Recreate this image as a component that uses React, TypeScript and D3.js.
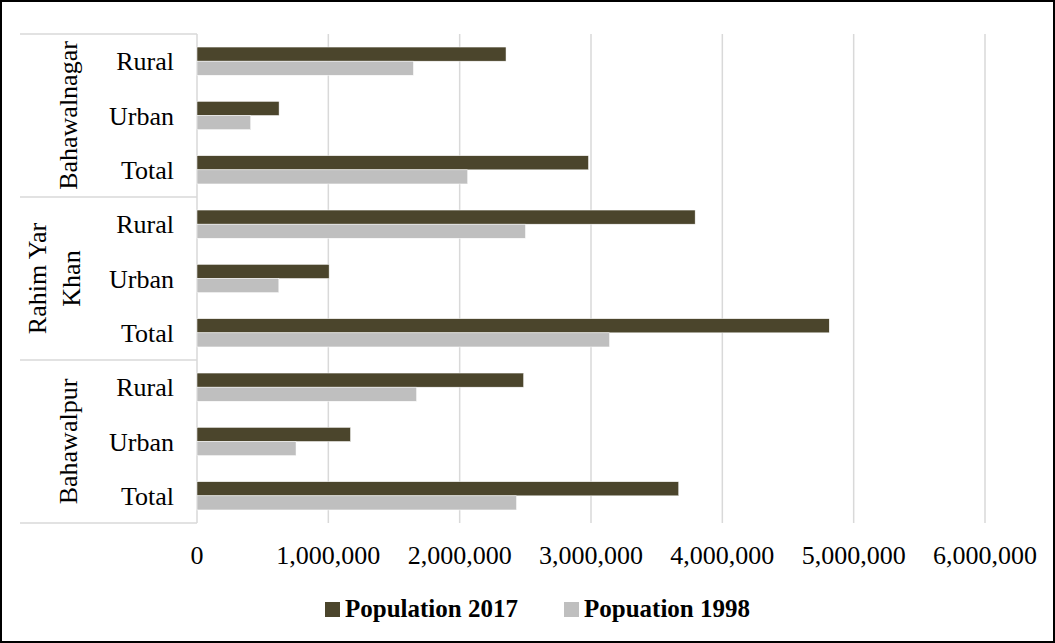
import { useEffect, useRef } from "react";
import * as d3 from "d3";

const groups = ["Bahawalnagar", "Rahim Yar Khan", "Bahawalpur"];
const subCats = ["Rural", "Urban", "Total"];
const series = ["Population 2017", "Popuation 1998"];
// values per group, in subCats order
const pop2017 = [
  [2353000, 625000, 2981000],
  [3793000, 1006000, 4814000],
  [2487000, 1169000, 3668000],
];
const pop1998 = [
  [1648000, 409000, 2061000],
  [2501000, 623000, 3141000],
  [1672000, 754000, 2433000],
];
const xTicks = [0, 1000000, 2000000, 3000000, 4000000, 5000000, 6000000];

const colors = ["#4b452c", "#bfbfbf"];
const W = 1055;
const H = 643;

const App = () => {
  const ref = useRef<SVGSVGElement>(null);

  useEffect(() => {
    if (!ref.current) return;
    const svg = d3.select(ref.current);
    svg.selectAll("*").remove();

    const font = "'Liberation Serif', 'Times New Roman', serif";
    const left = 197;
    const right = 985;
    const top = 34;
    const bottom = 523;
    const tableLeft = 20;

    const rows = groups.flatMap((g, gi) =>
      subCats.map((s, si) => ({
        key: `${g}-${s}`,
        group: g,
        gi,
        label: s,
        values: [pop2017[gi][si], pop1998[gi][si]],
      }))
    );

    const x = d3.scaleLinear().domain([0, 6000000]).range([left, right]);
    const y = d3
      .scaleBand()
      .domain(rows.map((r) => r.key))
      .range([top, bottom])
      .paddingInner(0.48)
      .paddingOuter(0.24);
    const inner = d3.scaleBand().domain(series).range([0, y.bandwidth()]);

    // outer frame
    svg
      .append("rect")
      .attr("x", 1)
      .attr("y", 1)
      .attr("width", W - 2)
      .attr("height", H - 2)
      .attr("fill", "#fff")
      .attr("stroke", "#000")
      .attr("stroke-width", 2);

    // gridlines
    svg
      .append("g")
      .selectAll("line")
      .data(xTicks)
      .join("line")
      .attr("x1", (d) => x(d))
      .attr("x2", (d) => x(d))
      .attr("y1", top)
      .attr("y2", bottom)
      .attr("stroke", "#d9d9d9")
      .attr("stroke-width", 1.5);

    // group table lines
    const step = y.step();
    const groupEdges = [0, 3, 6, 9].map((i) => top + i * step);
    svg
      .append("g")
      .selectAll("line")
      .data(groupEdges)
      .join("line")
      .attr("x1", tableLeft)
      .attr("x2", left)
      .attr("y1", (d) => d)
      .attr("y2", (d) => d)
      .attr("stroke", "#d9d9d9")
      .attr("stroke-width", 1.5);

    // bars
    const rowG = svg
      .append("g")
      .selectAll("g")
      .data(rows)
      .join("g")
      .attr("transform", (d) => `translate(0,${y(d.key)})`);
    rowG
      .selectAll("rect")
      .data((d) => d.values.map((v, i) => ({ v, s: series[i], i })))
      .join("rect")
      .attr("x", x(0))
      .attr("y", (d) => inner(d.s)!)
      .attr("width", (d) => x(d.v) - x(0))
      .attr("height", inner.bandwidth())
      .attr("fill", (d) => colors[d.i])
      .attr("stroke", "#fff")
      .attr("stroke-width", 0.5);

    // category labels
    svg
      .append("g")
      .selectAll("text")
      .data(rows)
      .join("text")
      .attr("x", 174)
      .attr("y", (d) => y(d.key)! + y.bandwidth() / 2)
      .attr("dy", "0.35em")
      .attr("text-anchor", "end")
      .attr("font-family", font)
      .attr("font-size", 26)
      .attr("fill", "#000")
      .text((d) => d.label);

    // group labels (rotated)
    const groupLines = groups.map((g) =>
      g === "Rahim Yar Khan" ? ["Rahim Yar", "Khan"] : [g]
    );
    groupLines.forEach((lines, gi) => {
      const cy = (groupEdges[gi] + groupEdges[gi + 1]) / 2;
      const lh = 34;
      const cx = lines.length > 1 ? 37 : 68;
      const t = svg
        .append("text")
        .attr("transform", `translate(${cx},${cy}) rotate(-90)`)
        .attr("text-anchor", "middle")
        .attr("font-family", font)
        .attr("font-size", 26)
        .attr("fill", "#000");
      lines.forEach((ln, li) => {
        t.append("tspan")
          .attr("x", 0)
          .attr("y", li * lh)
          .attr("dy", "0.35em")
          .text(ln);
      });
    });

    // x tick labels
    svg
      .append("g")
      .selectAll("text")
      .data(xTicks)
      .join("text")
      .attr("x", (d) => x(d))
      .attr("y", 564)
      .attr("text-anchor", "middle")
      .attr("font-family", font)
      .attr("font-size", 26)
      .attr("fill", "#000")
      .text((d) => d3.format(",")(d));

    // legend
    const legendX = [325, 564];
    series.forEach((s, i) => {
      svg
        .append("rect")
        .attr("x", legendX[i])
        .attr("y", 602)
        .attr("width", 15)
        .attr("height", 15)
        .attr("fill", colors[i]);
      svg
        .append("text")
        .attr("x", legendX[i] + 20)
        .attr("y", 617)
        .attr("font-family", font)
        .attr("font-size", 25)
        .attr("font-weight", "bold")
        .attr("fill", "#000")
        .text(s);
    });
  }, []);

  return (
    <svg
      ref={ref}
      width={W}
      height={H}
      style={{ position: "absolute", left: 0, top: 0, display: "block" }}
    ></svg>
  );
};

export default App;
